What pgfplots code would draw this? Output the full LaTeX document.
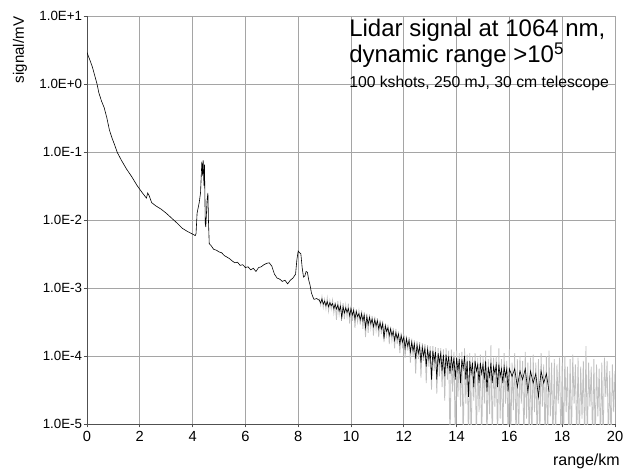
\documentclass[border=0pt]{standalone}
\usepackage{fontspec}
\setmainfont{Liberation Sans}
\usepackage{pgfplots}
\pgfplotsset{compat=1.18}
\definecolor{gridc}{RGB}{165,165,165}
\definecolor{axisc}{RGB}{80,80,80}
\definecolor{noisec}{RGB}{192,192,192}
\begin{document}
\begin{tikzpicture}
\useasboundingbox (-65.25pt,-33pt) rectangle (408pt,318pt);
\begin{axis}[
  scale only axis, width=396pt, height=306pt,
  ymode=log, xmin=0, xmax=20, ymin=1e-5, ymax=1e1,
  axis lines*=left, axis line style={-, draw=axisc, line width=0.7pt},
  xtick={0,2,...,20}, ytick={1e-5,1e-4,1e-3,1e-2,1e-1,1,1e1},
  yticklabels={1.0E-5,1.0E-4,1.0E-3,1.0E-2,1.0E-1,1.0E+0,1.0E+1},
  minor ytick={}, yminorticks=false,
  grid=major, major grid style={draw=gridc, line width=0.5pt},
  tick align=outside, major tick length=2.5pt, tick style={draw=axisc, line width=0.5pt},
  /pgf/number format/assume math mode=true,
  yticklabel style={inner sep=1pt, font=\fontsize{10}{12}\selectfont},
  xticklabel style={inner sep=1pt, yshift=-2pt, font=\fontsize{11}{13}\selectfont},
  clip=true,
]
\addplot[noisec, line width=0.6pt] coordinates {
(8.80,7.0e-4)(8.85,5.6e-4)(8.90,7.4e-4)(8.95,5.2e-4)(9.00,6.8e-4)(9.05,5.0e-4)(9.10,7.1e-4)(9.15,4.6e-4)(9.20,6.5e-4)(9.25,4.9e-4)
(9.30,6.6e-4)(9.35,4.3e-4)(9.40,6.2e-4)(9.45,3.4e-4)(9.50,6.4e-4)(9.55,4.1e-4)(9.60,5.9e-4)(9.65,3.9e-4)(9.70,6.0e-4)(9.75,3.5e-4)
(9.80,5.6e-4)(9.85,3.8e-4)(9.90,5.9e-4)(9.95,3.0e-4)(10.00,5.5e-4)(10.05,3.3e-4)(10.10,5.2e-4)(10.15,2.6e-4)(10.20,4.9e-4)(10.25,3.2e-4)
(10.30,4.6e-4)(10.35,2.9e-4)(10.40,4.7e-4)(10.45,2.5e-4)(10.50,4.4e-4)(10.55,1.9e-4)(10.60,4.2e-4)(10.65,2.2e-4)(10.70,4.1e-4)(10.75,2.6e-4)
(10.80,3.9e-4)(10.85,2.0e-4)(10.90,3.8e-4)(10.95,2.4e-4)(11.00,3.6e-4)(11.05,1.9e-4)(11.10,3.4e-4)(11.15,2.1e-4)(11.20,3.3e-4)(11.25,1.6e-4)
(11.30,3.0e-4)(11.35,2.0e-4)(11.40,2.9e-4)(11.45,1.5e-4)(11.50,2.7e-4)(11.55,1.7e-4)(11.60,2.6e-4)(11.65,1.3e-4)(11.70,2.5e-4)(11.75,1.5e-4)
(11.80,2.3e-4)(11.85,1.1e-4)(11.90,2.2e-4)(11.95,1.3e-4)(12.00,2.1e-4)(12.05,9.5e-5)(12.10,2.0e-4)(12.15,1.2e-4)(12.20,1.9e-4)(12.25,8.0e-5)
(12.30,1.8e-4)(12.35,1.0e-4)(12.40,1.7e-4)(12.45,5.5e-5)(12.50,1.65e-4)(12.55,9.0e-5)(12.60,1.6e-4)(12.65,4.8e-5)(12.70,1.55e-4)(12.75,8.5e-5)
(12.80,1.5e-4)(12.85,4.0e-5)(12.90,1.45e-4)(12.95,7.0e-5)(13.00,1.4e-4)(13.05,3.2e-5)(13.10,1.4e-4)(13.15,6.0e-5)(13.20,1.35e-4)(13.25,2.8e-5)
(13.30,1.3e-4)(13.35,5.0e-5)(13.40,1.3e-4)(13.45,3.5e-5)(13.50,1.25e-4)(13.55,2.2e-5)(13.60,1.3e-4)(13.65,4.5e-5)(13.70,1.2e-4)(13.75,5.0e-6)
(13.80,1.25e-4)(13.85,3.0e-5)(13.90,1.15e-4)(13.95,5.0e-6)(14.00,1.2e-4)(14.05,2.5e-5)(14.10,1.1e-4)(14.15,1.8e-5)(14.20,1.15e-4)(14.25,5.0e-6)
(14.30,1.3e-4)(14.35,2.0e-5)(14.40,1.05e-4)(14.45,5.0e-6)(14.50,1.1e-4)(14.55,5.0e-6)(14.60,1.0e-4)(14.65,2.2e-5)(14.70,1.1e-4)(14.75,5.0e-6)
(14.80,9.5e-5)(14.85,1.5e-5)(14.90,1.05e-4)(14.95,5.0e-6)(15.00,1.0e-4)(15.05,2.0e-5)(15.10,1.2e-4)(15.15,5.0e-6)(15.20,9.0e-5)(15.25,1.4e-5)
(15.30,1.45e-4)(15.35,5.0e-6)(15.40,9.5e-5)(15.45,1.8e-5)(15.50,1.0e-4)(15.55,5.0e-6)(15.60,1.3e-4)(15.65,1.2e-5)(15.70,9.0e-5)(15.75,5.0e-6)
(15.80,1.1e-4)(15.85,2.0e-5)(15.90,8.5e-5)(15.95,5.0e-6)(16.00,1.25e-4)(16.05,5.0e-6)(16.10,8.0e-5)(16.15,1.6e-5)(16.20,1.1e-4)(16.25,5.0e-6)
(16.30,9.0e-5)(16.35,5.0e-6)(16.40,1.0e-4)(16.45,2.0e-5)(16.50,8.5e-5)(16.55,5.0e-6)(16.60,1.15e-4)(16.65,1.2e-5)(16.70,8.0e-5)(16.75,5.0e-6)
(16.80,9.5e-5)(16.85,5.0e-6)(16.90,1.05e-4)(16.95,1.5e-5)(17.00,8.0e-5)(17.05,5.0e-6)(17.10,9.0e-5)(17.15,5.0e-6)(17.20,1.1e-4)(17.25,1.8e-5)
(17.30,7.5e-5)(17.35,5.0e-6)(17.40,1.0e-4)(17.45,5.0e-6)(17.50,1.2e-4)(17.55,1.3e-5)(17.60,8.0e-5)(17.65,5.0e-6)(17.70,9.0e-5)(17.75,5.0e-6)
(17.80,7.5e-5)(17.85,2.0e-5)(17.90,9.5e-5)(17.95,5.0e-6)(18.00,8.0e-5)(18.05,5.0e-6)(18.10,1.0e-4)(18.15,1.5e-5)(18.20,7.0e-5)(18.25,5.0e-6)
(18.30,9.0e-5)(18.35,5.0e-6)(18.40,1.05e-4)(18.45,2.0e-5)(18.50,7.5e-5)(18.55,5.0e-6)(18.60,9.5e-5)(18.65,5.0e-6)(18.70,7.0e-5)(18.75,1.2e-5)
(18.80,8.5e-5)(18.85,5.0e-6)(18.90,1.4e-4)(18.95,5.0e-6)(19.00,8.0e-5)(19.05,1.8e-5)(19.10,7.0e-5)(19.15,5.0e-6)(19.20,9.0e-5)(19.25,5.0e-6)
(19.30,7.5e-5)(19.35,1.3e-5)(19.40,6.5e-5)(19.45,5.0e-6)(19.50,8.0e-5)(19.55,5.0e-6)(19.60,9.5e-5)(19.65,2.5e-5)(19.70,8.5e-5)(19.75,5.0e-6)
(19.80,6.0e-5)(19.85,5.0e-6)(19.90,7.5e-5)(19.95,1.5e-5)(20.00,6.0e-5)
};
\addplot[black, line width=0.45pt] coordinates {
(0.00,2.9)(0.10,2.3)(0.20,1.8)(0.30,1.3)(0.38,1.0)(0.45,0.74)(0.55,0.56)(0.65,0.45)(0.75,0.32)(0.85,0.21)
(0.95,0.16)(1.05,0.126)(1.15,0.098)(1.30,0.076)(1.50,0.056)(1.70,0.043)(1.90,0.032)(2.10,0.025)(2.25,0.021)(2.30,0.025)
(2.35,0.023)(2.45,0.018)(2.60,0.0162)(2.80,0.0145)(3.00,0.0126)(3.20,0.0107)(3.40,0.0091)(3.60,0.0076)(3.80,0.0068)(4.00,0.0062)
(4.10,0.0059)(4.13,0.0063)(4.17,0.0126)(4.25,0.018)(4.30,0.025)(4.35,0.072)(4.38,0.045)(4.40,0.076)(4.43,0.032)(4.45,0.065)
(4.48,0.0089)(4.50,0.0079)(4.55,0.020)(4.58,0.025)(4.60,0.010)(4.63,0.0045)
(4.70,4.2e-3)(4.80,3.7e-3)(4.90,3.6e-3)(5.00,3.4e-3)(5.10,3.3e-3)(5.20,3.0e-3)(5.30,2.85e-3)(5.40,2.7e-3)(5.50,2.5e-3)(5.60,2.35e-3)
(5.70,2.4e-3)(5.80,2.15e-3)(5.90,2.2e-3)(6.00,2.0e-3)(6.10,2.05e-3)(6.20,1.85e-3)(6.30,1.95e-3)(6.40,1.75e-3)(6.50,2.0e-3)(6.60,2.05e-3)
(6.70,2.2e-3)(6.80,2.3e-3)(6.90,2.35e-3)(7.00,2.1e-3)(7.10,1.6e-3)(7.20,1.4e-3)(7.30,1.35e-3)(7.40,1.25e-3)(7.50,1.3e-3)(7.60,1.15e-3)
(7.70,1.3e-3)(7.80,1.4e-3)(7.90,1.6e-3)(7.95,2.6e-3)(8.00,3.5e-3)(8.05,3.3e-3)(8.10,3.2e-3)(8.15,2.0e-3)(8.20,1.45e-3)(8.25,1.5e-3)
(8.30,1.75e-3)(8.35,1.7e-3)(8.40,1.3e-3)(8.45,1.1e-3)(8.50,8.5e-4)(8.55,7.5e-4)(8.60,6.8e-4)(8.70,7.0e-4)
(8.80,6.6e-4)(8.85,6.0e-4)(8.90,6.9e-4)(8.95,5.8e-4)(9.00,6.4e-4)(9.05,5.5e-4)(9.10,6.3e-4)(9.15,5.3e-4)(9.20,6.1e-4)(9.25,5.5e-4)
(9.30,5.9e-4)(9.35,5.0e-4)(9.40,5.8e-4)(9.45,4.9e-4)(9.50,5.6e-4)(9.55,4.6e-4)(9.60,5.4e-4)(9.65,3.6e-4)(9.70,5.3e-4)(9.75,4.3e-4)
(9.80,5.1e-4)(9.85,4.4e-4)(9.90,5.0e-4)(9.95,3.9e-4)(10.00,5.0e-4)(10.05,4.0e-4)(10.10,4.7e-4)(10.15,3.5e-4)(10.20,4.5e-4)(10.25,3.8e-4)
(10.30,4.2e-4)(10.35,3.4e-4)(10.40,4.2e-4)(10.45,3.3e-4)(10.50,4.0e-4)(10.55,2.6e-4)(10.60,3.8e-4)(10.65,2.9e-4)(10.70,3.7e-4)(10.75,3.0e-4)
(10.80,3.5e-4)(10.85,2.7e-4)(10.90,3.4e-4)(10.95,2.8e-4)(11.00,3.3e-4)(11.05,2.5e-4)(11.10,3.1e-4)(11.15,2.5e-4)(11.20,3.0e-4)(11.25,1.8e-4)
(11.30,2.8e-4)(11.35,2.3e-4)(11.40,2.6e-4)(11.45,2.0e-4)(11.50,2.5e-4)(11.55,2.0e-4)(11.60,2.3e-4)(11.65,1.7e-4)(11.70,2.2e-4)(11.75,1.8e-4)
(11.80,2.1e-4)(11.85,1.5e-4)(11.90,2.0e-4)(11.95,1.6e-4)(12.00,1.9e-4)(12.05,1.3e-4)(12.10,1.8e-4)(12.15,1.4e-4)(12.20,1.7e-4)(12.25,1.15e-4)
(12.30,1.6e-4)(12.35,1.2e-4)(12.40,1.5e-4)(12.45,9.0e-5)(12.50,1.45e-4)(12.55,1.1e-4)(12.60,1.4e-4)(12.65,8.0e-5)(12.70,1.35e-4)(12.75,1.0e-4)
(12.80,1.3e-4)(12.85,7.0e-5)(12.90,1.25e-4)(12.95,9.0e-5)(13.00,1.2e-4)(13.05,4.5e-5)(13.10,1.2e-4)(13.15,8.5e-5)(13.20,1.15e-4)(13.25,4.5e-5)
(13.30,1.1e-4)(13.35,8.0e-5)(13.40,1.1e-4)(13.45,6.0e-5)(13.50,1.05e-4)(13.55,5.0e-5)(13.60,1.05e-4)(13.65,7.0e-5)(13.70,1.0e-4)(13.75,5.5e-5)
(13.80,1.0e-4)(13.85,6.5e-5)(13.90,9.5e-5)(13.95,4.5e-5)(14.00,9.5e-5)(14.05,6.0e-5)(14.10,9.0e-5)(14.15,4.0e-5)(14.20,9.0e-5)(14.25,6.5e-5)
(14.30,1.0e-4)(14.35,4.5e-5)(14.40,8.5e-5)(14.45,2.5e-5)(14.50,8.5e-5)(14.55,5.5e-5)(14.60,8.0e-5)(14.65,3.5e-5)(14.70,8.5e-5)(14.75,6.0e-5)
(14.80,7.5e-5)(14.85,4.0e-5)(14.90,8.0e-5)(14.95,5.5e-5)(15.00,7.5e-5)(15.05,4.5e-5)(15.10,8.5e-5)(15.15,3.0e-5)(15.20,7.0e-5)(15.25,5.0e-5)
(15.30,8.0e-5)(15.35,4.0e-5)(15.40,7.0e-5)(15.45,5.5e-5)(15.50,7.5e-5)(15.55,3.5e-5)(15.60,7.5e-5)(15.65,5.0e-5)(15.70,6.5e-5)(15.75,4.0e-5)
(15.80,7.0e-5)(15.85,5.0e-5)(15.90,6.5e-5)(15.95,3.0e-5)(16.00,6.5e-5)(16.10,5.0e-5)(16.20,6.5e-5)(16.30,3.5e-5)(16.40,6.0e-5)(16.50,4.5e-5)
(16.60,6.5e-5)(16.70,3.0e-5)(16.80,6.0e-5)(16.90,4.0e-5)(17.00,5.5e-5)(17.10,2.5e-5)(17.20,6.0e-5)(17.30,4.0e-5)(17.40,5.5e-5)(17.50,3.0e-5)
};
\end{axis}
\node[anchor=base west, inner sep=0pt, font=\fontsize{18}{20}\selectfont] at (196.5pt,290.25pt) {Lidar signal at 1064 nm,};
\node[anchor=base west, inner sep=0pt, font=\fontsize{18}{20}\selectfont] at (196.5pt,270.75pt) {dynamic range >10\textsuperscript{5}};
\node[anchor=base west, inner sep=0pt, font=\fontsize{11.8}{13}\selectfont] at (196.5pt,252pt) {100 kshots, 250 mJ, 30 cm telescope};
\node[anchor=base east, inner sep=0pt, font=\fontsize{12}{14}\selectfont] at (399.75pt,-30.75pt) {range/km};
\node[anchor=base, rotate=90, inner sep=0pt, font=\fontsize{11.3}{13}\selectfont] at (-47.25pt,280.5pt) {signal/mV};
\end{tikzpicture}
\end{document}
